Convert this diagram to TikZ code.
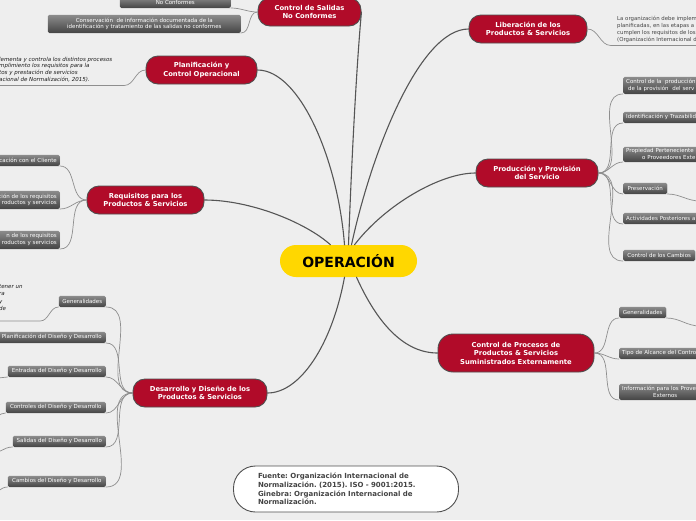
\documentclass[tikz,border=0pt]{standalone}
\usepackage{fontspec}
\setmainfont{DejaVu Sans}
\frenchspacing
\usetikzlibrary{shadows}
\definecolor{canvas}{HTML}{EEEEEE}
\definecolor{topicred}{HTML}{B10B29}
\definecolor{topicedge}{HTML}{4F4F4F}
\definecolor{coreyel}{HTML}{FFD700}
\definecolor{limbgray}{HTML}{555555}
\definecolor{twiggray}{HTML}{8E8E8E}
\definecolor{leaftop}{HTML}{8C8C8C}
\definecolor{leafbot}{HTML}{454545}
\definecolor{ink}{HTML}{1A1A1A}
\definecolor{ink2}{HTML}{444444}
\tikzset{
  every picture/.style={line cap=round, line join=round},
  topic/.style={draw=topicedge, fill=topicred, text=white, rounded corners=12pt,
    align=center, line width=0.9pt, inner sep=2pt,
    font=\bfseries\fontsize{6.8}{8.5}\selectfont},
  core/.style={fill=coreyel, rounded corners=16pt, minimum width=137pt, minimum height=32pt,
    font=\bfseries\fontsize{14}{16}\selectfont, text=black},
  leaf/.style={top color=leaftop, bottom color=leafbot, draw=none, rounded corners=1.5pt,
    text=white, align=center, inner xsep=3pt, inner ysep=1.5pt, minimum height=11pt,
    font=\fontsize{5.5}{6.8}\selectfont,
    drop shadow={shadow xshift=0.4pt, shadow yshift=-0.8pt, opacity=0.25}},
  cutl/.style={leaf, anchor=south east, text width=80pt, align=right},
  cutr/.style={leaf, anchor=south west, text width=95pt, align=left},
  note/.style={text=ink, align=left, inner sep=0pt, anchor=north west},
  limb/.style={draw=limbgray, line width=1.1pt},
  twig/.style={draw=twiggray, line width=0.7pt},
}
\begin{document}
\begin{tikzpicture}[x=1pt, y=-1pt]
  \useasboundingbox (0,0) rectangle (696,520);
  \clip (0,0) rectangle (696,520);
  \fill[canvas] (0,0) rectangle (696,520);

  % ---------------- main topics ----------------
  \node[core] (cen) at (348.5,261) {OPERACIÓN};
  \node[topic, minimum width=103pt, minimum height=28pt] (sal) at (309.5,12) {Control de Salidas\\No Conformes};
  \node[topic, minimum width=111pt, minimum height=28pt] (plan) at (201.5,70) {Planificación y\\Control Operacional};
  \node[topic, minimum width=118pt, minimum height=28pt] (lib) at (528,29) {Liberación de los\\Productos \& Servicios};
  \node[topic, minimum width=122pt, minimum height=28pt] (prod) at (537,173) {Producción y Provisión\\del Servicio};
  \node[topic, minimum width=117pt, minimum height=28pt] (req) at (145.5,200) {Requisitos para los\\Productos \& Servicios};
  \node[topic, minimum width=134pt, minimum height=28pt] (des) at (200,393) {Desarrollo y Diseño de los\\Productos \& Servicios};
  \node[topic, minimum width=156pt, minimum height=38pt, rounded corners=15pt] (cp) at (516,353) {Control de Procesos de\\Productos \& Servicios\\Suministrados Externamente};
  \node[draw=topicedge, fill=white, rounded corners=22pt, line width=0.9pt, minimum width=225pt,
    minimum height=46pt, text width=176pt, align=left, inner xsep=24pt, text=ink2,
    font=\bfseries\fontsize{7}{8.7}\selectfont] (src) at (346,489)
    {Fuente: Organización Internacional de\\Normalización. (2015). ISO - 9001:2015.\\Ginebra: Organización Internacional de\\Normalización.};

  % ---------------- control de salidas ----------------
  \node[leaf, anchor=south east, minimum width=111pt] (nc) at (231,8) {No Conformes};
  \node[leaf, anchor=south east, minimum width=193pt, minimum height=18pt] (cons) at (241,33)
    {Conservación\ \ de información documentada de la\\identificación y tratamiento de las salidas no conformes};

  % ---------------- planificación ----------------
  \node[note, font=\itshape\fontsize{5.5}{6.6}\selectfont] (plantxt) at (-1,57)
    {lementa y controla los distintos procesos\\mplimiento los requisitos para la\\tos y prestación de servicios\\acional de Normalización, 2015).};
  \coordinate (planl) at (-2,85.5);
  \coordinate (plank) at (124,85.5);

  % ---------------- requisitos ----------------
  \node[cutl] (r1) at (60,166) {cación con el Cliente};
  \node[cutl, minimum height=18pt] (r2) at (60,209) {ción de los requisitos\\roductos y servicios};
  \node[cutl, minimum height=18pt] (r3) at (60,249) {n de los requisitos\hspace*{7pt}\\roductos y servicios};

  % ---------------- desarrollo ----------------
  \node[leaf, anchor=south east, minimum width=47pt] (d1) at (106,307) {Generalidades};
  \node[leaf, anchor=south east, minimum width=108pt] (d2) at (106,343) {Planificación del Diseño y Desarrollo};
  \node[leaf, anchor=south east, minimum width=98pt] (d3) at (106,377) {Entradas del Diseño y Desarrollo};
  \node[leaf, anchor=south east, minimum width=100pt] (d4) at (106,413) {Controles del Diseño y Desarrollo};
  \node[leaf, anchor=south east, minimum width=93pt] (d5) at (106,447) {Salidas del Diseño y Desarrollo};
  \node[leaf, anchor=south east, minimum width=98pt] (d6) at (106,487) {Cambios del Diseño y Desarrollo};
  \node[note, font=\itshape\fontsize{5.5}{7.3}\selectfont] (destxt) at (-1,284.5) {tener un\\ra\\y\\de};
  \coordinate (desl) at (-2,321);
  \coordinate (desk) at (40,321);
  \coordinate (g3) at (-2,378);
  \coordinate (g4) at (-10,419);
  \coordinate (g5) at (-10,454);
  \coordinate (g6) at (-10,494);

  % ---------------- liberación ----------------
  \node[note, text=ink2, font=\fontsize{5.4}{7.3}\selectfont] (libtxt) at (617,15.5)
    {La organización debe implem\\planificadas, en las etapas a\\cumplen los requisitos de los\\(Organización Internacional d};
  \coordinate (libk) at (611,45.5);
  \coordinate (libr) at (698,45.5);

  % ---------------- producción ----------------
  \node[cutr, minimum height=17pt] (p1) at (623,94) {Control de la\ \ producción\\\hspace*{2pt}de la provisión\ \ del serv};
  \node[cutr] (p2) at (623,123) {Identificación y Trazabilid};
  \node[cutr, minimum height=15pt] (p3) at (623,162) {Propiedad Perteneciente\\\hspace*{16pt}o Proveedores Exte};
  \node[leaf, anchor=south west, minimum width=44pt] (p4) at (623,194) {Preservación};
  \node[cutr] (p5) at (623,224) {Actividades Posteriores a};
  \node[leaf, anchor=south west, minimum width=72pt] (p6) at (623,261) {Control de los Cambios};
  \coordinate (g7) at (700,201);

  % ---------------- control de procesos ----------------
  \node[leaf, anchor=south west, minimum width=47pt] (c1) at (619,318) {Generalidades};
  \node[cutr] (c2) at (619,359) {Tipo de Alcance del Contro};
  \node[cutr, minimum height=16pt] (c3) at (619,400) {Información para los Prove\\\hspace*{31pt}Externos};
  \coordinate (g8) at (700,326);

  % ---------------- branches from the centre ----------------
  \draw[limb] (cen.north) .. controls (352,150) and (357,60) .. (sal.east);
  \draw[limb] ([xshift=-4pt]cen.north) .. controls (338,160) and (300,70) .. (plan.east);
  \draw[limb] ([xshift=-18pt]cen.north) .. controls (305,222) and (250,200) .. (req.east);
  \draw[limb] ([xshift=3pt]cen.north) .. controls (372,150) and (420,29) .. (lib.west);
  \draw[limb] ([xshift=6pt]cen.north) .. controls (385,205) and (440,173) .. (prod.west);
  \draw[limb] ([xshift=-4pt]cen.south) .. controls (332,345) and (300,393) .. (des.east);
  \draw[limb] ([xshift=8pt]cen.south) .. controls (378,325) and (405,353) .. (cp.west);

  % ---------------- twigs ----------------
  \draw[twig] (sal.west) to[out=180,in=0] (nc.south east);
  \draw[twig] (sal.west) to[out=180,in=0] (cons.south east);
  \draw[twig] (plan.west) to[out=180,in=0] (plank) -- (planl);
  \foreach \b in {r1,r2,r3}{\draw[twig] (req.west) to[out=180,in=0] (\b.south east);}
  \foreach \b in {d1,d2,d3,d4,d5,d6}{\draw[twig] (des.west) to[out=180,in=0] (\b.south east);}
  \draw[twig] (d1.south west) to[out=180,in=0] (desk) -- (desl);
  \foreach \b/\g in {d3/g3,d4/g4,d5/g5,d6/g6}{\draw[twig] (\b.south west) to[out=180,in=0] (\g);}
  \draw[twig] (lib.east) to[out=0,in=180] (libk) -- (libr);
  \foreach \b in {p1,p2,p3,p4,p5,p6}{\draw[twig] (prod.east) to[out=0,in=180] (\b.south west);}
  \draw[twig] (p4.south east) to[out=0,in=180] (g7);
  \foreach \b in {c1,c2,c3}{\draw[twig] (cp.east) to[out=0,in=180] (\b.south west);}
  \draw[twig] (c1.south east) to[out=0,in=180] (g8);
\end{tikzpicture}
\end{document}
